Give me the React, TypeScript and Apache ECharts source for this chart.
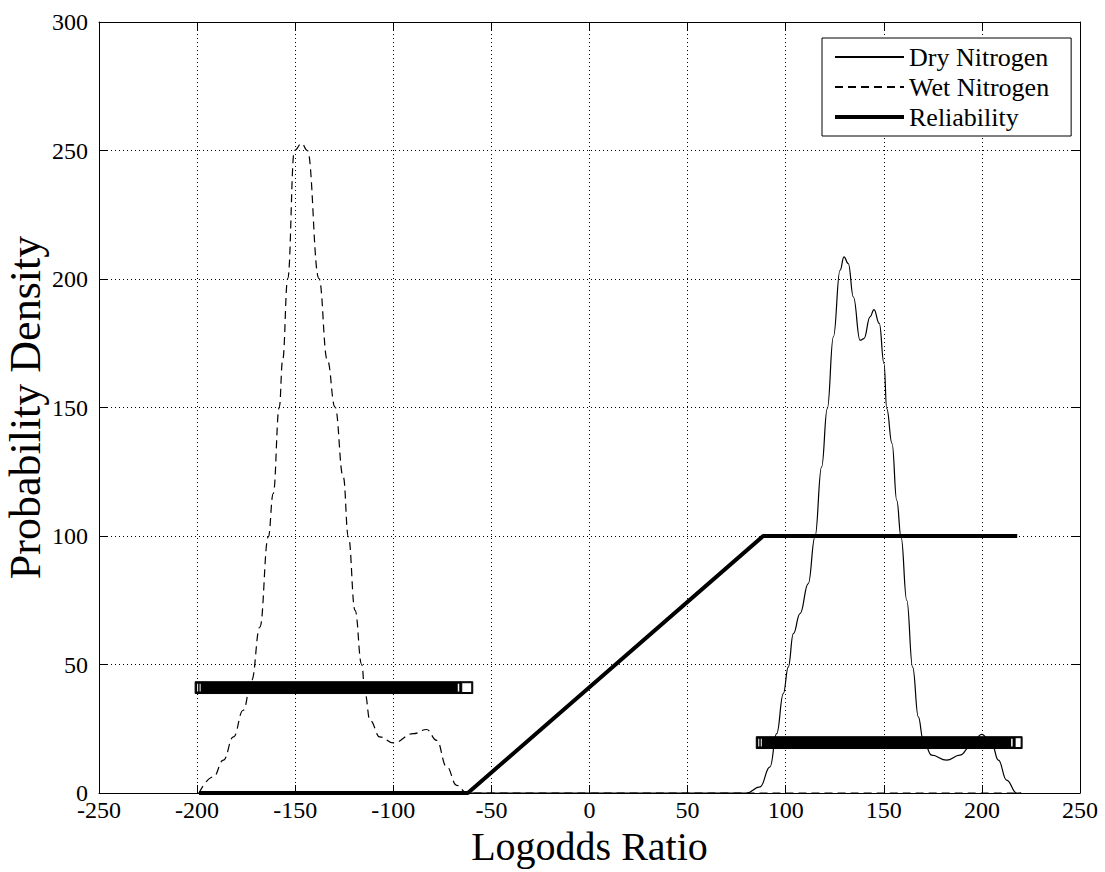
import React, { useEffect, useRef } from "react";
import * as echarts from "echarts";

// Dry Nitrogen probability density
const dryX = [-200, -100, 0, 60, 80, 86.9, 92, 95.4, 98.8, 101.3, 103.9, 107.3, 111.5, 114.9, 118.3, 121.2, 124.3, 127.7, 129.7, 131.9, 134.5, 137.9, 139.9, 143, 145, 147.7, 150.1, 151.5, 154.2, 156.6, 158.8, 161.7, 164.7, 167.6, 170.1, 174.4, 182, 188.8, 193.9, 199.9, 205, 208.4, 212.6, 217.7, 220];
const dryY = [0, 0, 0, 0, 0, 2.4, 10.2, 23.1, 38.7, 49, 62, 69.8, 81.5, 99.6, 126.9, 149.6, 177.5, 203.4, 208.6, 206, 193, 176.2, 176.8, 185.3, 188.1, 182.7, 167.1, 149.6, 136, 113.9, 99.6, 75, 49, 29.6, 20.5, 14.7, 12.8, 14.7, 17.9, 22.8, 19.3, 12.8, 5, 0, 0];

// Wet Nitrogen probability density
const wetX = [-199, -191.7, -186.6, -181.5, -176.5, -172.2, -168, -163.7, -161.2, -158.1, -156.4, -153.8, -150.4, -146.7, -143.8, -137.9, -133.6, -129.7, -125.5, -122.9, -119.5, -116.1, -114.4, -111.9, -106.8, -100, -89.8, -83, -77.9, -72.8, -67.7, -62.6, 0, 100, 220];
const wetY = [0, 6.3, 12.8, 21.8, 32.2, 43.9, 64.6, 99.7, 116.5, 150.2, 168.4, 200.2, 250, 252.7, 250, 200.2, 168.4, 150.2, 123, 99.7, 71.1, 50, 38.7, 28.3, 21.8, 19.5, 23.1, 24.7, 20.5, 10.2, 3, 0, 0, 0, 0];

// Reliability
const relX = [-199, -62, 88.5, 218];
const relY = [0, 0, 100, 100];

// Horizontal bars
const barStart = [-201, 85];
const barEnd = [-59.5, 220.5];
const barLevel = [41, 19.6];
const barHalf = [2.3, 2.3];

const xTicks = { min: -250, max: 250, interval: 50 };
const yTicks = { min: 0, max: 300, interval: 50 };

const FONT = "Liberation Serif";

export default function App() {
  const ref = useRef<HTMLDivElement>(null);
  useEffect(() => {
    if (!ref.current) return;
    const chart = echarts.init(ref.current, undefined, { renderer: "svg" });
    const zip = (xs: number[], ys: number[]) => xs.map((x, i) => [x, ys[i]]);
    const barData = barStart.map((s, i) => [s, barEnd[i], barLevel[i], barHalf[i]]);
    const gridLine = { show: true, lineStyle: { color: "#000", type: [1, 3], width: 1 } };
    const axisLine = { show: true, onZero: false, lineStyle: { color: "#000", width: 1 } };
    const tick = { show: true, inside: true, length: 8, lineStyle: { color: "#000" } };
    chart.setOption({
      animation: false,
      backgroundColor: "#fff",
      textStyle: { fontFamily: FONT },
      grid: { left: 99, right: 25, top: 22, bottom: 79, containLabel: false, outerBoundsMode: "none" },
      legend: {
        data: [
          { name: "Dry Nitrogen" },
          { name: "Wet Nitrogen" },
          { name: "Reliability", lineStyle: { width: 4 } },
        ],
        orient: "vertical",
        left: 822,
        top: 38,
        backgroundColor: "#fff",
        borderColor: "#000",
        borderWidth: 1,
        borderRadius: 0,
        padding: [6, 22, 6, 11],
        itemWidth: 69,
        itemHeight: 14,
        itemGap: 4,
        z: 10,
        itemStyle: { opacity: 0 },
        textStyle: { fontFamily: FONT, fontSize: 26, color: "#000", lineHeight: 26 },
      },
      xAxis: [
        {
          type: "value", ...xTicks, position: "bottom",
          name: "Logodds Ratio", nameLocation: "middle", nameGap: 34, nameMoveOverlap: false,
          nameTextStyle: { fontFamily: FONT, fontSize: 40, color: "#000", verticalAlign: "top", lineHeight: 38 },
          axisLine, axisTick: tick, splitLine: gridLine,
          axisLabel: { fontFamily: FONT, fontSize: 24, color: "#000", margin: 7, lineHeight: 20 },
        },
        {
          type: "value", ...xTicks, position: "top",
          axisLine, axisTick: tick, splitLine: { show: false }, axisLabel: { show: false },
        },
      ],
      yAxis: [
        {
          type: "value", ...yTicks, position: "left",
          name: "Probability Density", nameLocation: "middle", nameGap: 52, nameMoveOverlap: false,
          nameTextStyle: { fontFamily: FONT, fontSize: 44, color: "#000", verticalAlign: "bottom", lineHeight: 44 },
          axisLine, axisTick: tick, splitLine: gridLine,
          axisLabel: { fontFamily: FONT, fontSize: 24, color: "#000", margin: 11, lineHeight: 22 },
        },
        {
          type: "value", ...yTicks, position: "right",
          axisLine, axisTick: tick, splitLine: { show: false }, axisLabel: { show: false },
        },
      ],
      series: [
        {
          name: "Dry Nitrogen", type: "line", data: zip(dryX, dryY), symbol: "none",
          smooth: 0.45, smoothMonotone: "x",
          lineStyle: { color: "#000", width: 1.2 }, itemStyle: { color: "#000" }, z: 3,
        },
        {
          name: "Wet Nitrogen", type: "line", data: zip(wetX, wetY), symbol: "none",
          smooth: 0.45, smoothMonotone: "x",
          lineStyle: { color: "#000", width: 1.2, type: [8, 5] }, itemStyle: { color: "#000" }, z: 3,
        },
        {
          name: "Reliability", type: "line", data: zip(relX, relY), symbol: "none",
          lineStyle: { color: "#000", width: 4 }, itemStyle: { color: "#000" }, z: 4,
        },
        {
          name: "bars", type: "custom", data: barData, z: 5,
          renderItem: (params: any, api: any) => {
            const s = api.value(0), e = api.value(1), lv = api.value(2), hh = api.value(3);
            const tl = api.coord([s, lv + hh]);
            const br = api.coord([e, lv - hh]);
            const w = br[0] - tl[0], h = br[1] - tl[1];
            const capW = params.dataIndex === 0 ? 11 : 7;
            return {
              type: "group",
              children: [
                { type: "rect", shape: { x: tl[0], y: tl[1], width: w, height: h }, style: { fill: "#000", stroke: "#000", lineWidth: 1 } },
                { type: "rect", shape: { x: br[0] - capW, y: tl[1] + 1, width: capW - 1, height: h - 2 }, style: { fill: "#fff", stroke: "#000", lineWidth: 1 } },
                { type: "rect", shape: { x: tl[0] + 2, y: tl[1] + 2, width: 1, height: h - 4 }, style: { fill: "#fff" } },
                { type: "rect", shape: { x: tl[0] + 4.5, y: tl[1] + 2, width: 1, height: h - 4 }, style: { fill: "#fff" } },
                { type: "rect", shape: { x: br[0] - capW - 4, y: tl[1] + 2, width: 1.5, height: h - 4 }, style: { fill: "#fff" } },
              ],
            };
          },
        },
      ],
    });
    return () => chart.dispose();
  }, []);
  return <div ref={ref} style={{ position: "fixed", left: 0, top: 0, width: 1105, height: 872, background: "#fff" }} />;
}
